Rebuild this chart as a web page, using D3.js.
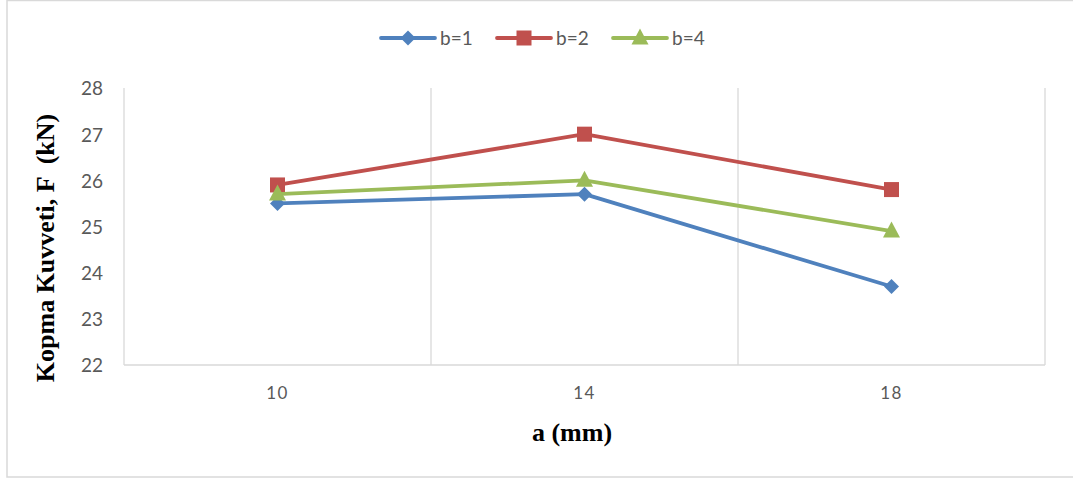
<!DOCTYPE html>
<html>
<head>
<meta charset="utf-8">
<script src="https://cdn.jsdelivr.net/npm/d3@7"></script>
<style>
html,body{margin:0;padding:0;background:#fff;}
svg{display:block;}
</style>
</head>
<body>
<svg id="chart" width="1073" height="481"></svg>
<script>
const categories = ["10", "14", "18"];
const seriesNames = ["b=1", "b=2", "b=4"];
const b1 = [25.5, 25.7, 23.7];
const b2 = [25.9, 27.0, 25.8];
const b4 = [25.7, 26.0, 24.9];
const yTicks = [22, 23, 24, 25, 26, 27, 28];

const series = [
  {name: seriesNames[0], values: b1, color: "#4F81BD", marker: "diamond"},
  {name: seriesNames[1], values: b2, color: "#C0504D", marker: "square"},
  {name: seriesNames[2], values: b4, color: "#9BBB59", marker: "triangle"}
];

const svg = d3.select("#chart");
const W = 1073, H = 481;
const plot = {left: 124, right: 1045, top: 88, bottom: 365};

// outer border
svg.append("rect").attr("x", 7).attr("y", 0.5).attr("width", W + 10).attr("height", 476.5)
  .attr("fill", "none").attr("stroke", "#d9d9d9").attr("stroke-width", 1.5);

const x = d3.scaleBand().domain(categories).range([plot.left, plot.right]).padding(0);
const y = d3.scaleLinear().domain([22, 28]).range([plot.bottom, plot.top]);

// vertical gridlines at band boundaries
const bounds = categories.map(c => x(c)).concat([x(categories[categories.length-1]) + x.bandwidth()]);
svg.append("g").selectAll("line").data(bounds.slice(1)).join("line")
  .attr("x1", d => d).attr("x2", d => d)
  .attr("y1", plot.top).attr("y2", plot.bottom)
  .attr("stroke", "#d9d9d9").attr("stroke-width", 1.3);

// left axis line & bottom axis line
svg.append("line").attr("x1", plot.left).attr("x2", plot.left).attr("y1", plot.top).attr("y2", plot.bottom)
  .attr("stroke", "#d9d9d9").attr("stroke-width", 1.3);
svg.append("line").attr("x1", plot.left).attr("x2", plot.right).attr("y1", plot.bottom).attr("y2", plot.bottom)
  .attr("stroke", "#d9d9d9").attr("stroke-width", 1.3);

// y axis labels
const yAxis = d3.axisLeft(y).tickValues(yTicks).tickFormat(d3.format("d")).tickSize(0).tickPadding(0);
const gy = svg.append("g").attr("transform", `translate(${plot.left - 21},0)`).call(yAxis);
gy.select(".domain").remove();
gy.selectAll("text").attr("font-family", "Lato, 'Open Sans', sans-serif").attr("font-size", 19)
  .attr("fill", "#595959").attr("dy", "0.36em");

// x axis labels
const xAxis = d3.axisBottom(x).tickSize(0).tickPadding(0);
const gx = svg.append("g").attr("transform", `translate(0,${plot.bottom + 22})`).call(xAxis);
gx.select(".domain").remove();
gx.selectAll("text").attr("font-family", "Lato, 'Open Sans', sans-serif").attr("font-size", 17)
  .attr("fill", "#595959").attr("letter-spacing", "1.5px").attr("dy", "0.71em");

// axis titles
svg.append("text").attr("x", 572).attr("y", 441).attr("text-anchor", "middle")
  .attr("font-family", "'Liberation Serif', 'Times New Roman', serif").attr("font-weight", "bold")
  .attr("font-size", 26).attr("fill", "#000").text("a (mm)");
svg.append("text").attr("transform", "translate(54,248) rotate(-90)").attr("text-anchor", "middle")
  .attr("font-family", "'Liberation Serif', 'Times New Roman', serif").attr("font-weight", "bold")
  .attr("font-size", 26).attr("fill", "#000").attr("xml:space", "preserve")
  .text("Kopma Kuvveti, F  (kN)");

function drawMarker(g, type, cx, cy, color) {
  if (type === "diamond") {
    const r = 7.5;
    g.append("path").attr("d", `M${cx},${cy-r}L${cx+r},${cy}L${cx},${cy+r}L${cx-r},${cy}Z`).attr("fill", color);
  } else if (type === "square") {
    const s = 15;
    g.append("rect").attr("x", cx - s/2).attr("y", cy - s/2).attr("width", s).attr("height", s).attr("fill", color);
  } else {
    const h = 16, w = 17;
    g.append("path").attr("d", `M${cx},${cy-h*0.6}L${cx+w/2},${cy+h*0.4}L${cx-w/2},${cy+h*0.4}Z`).attr("fill", color);
  }
}

const line = d3.line().x((d, i) => x(categories[i]) + x.bandwidth()/2).y(d => y(d));

series.forEach(s => {
  const g = svg.append("g");
  g.append("path").datum(s.values).attr("d", line).attr("fill", "none")
    .attr("stroke", s.color).attr("stroke-width", 3.8).attr("stroke-linejoin", "round").attr("stroke-linecap", "round");
  s.values.forEach((v, i) => drawMarker(g, s.marker, x(categories[i]) + x.bandwidth()/2, y(v), s.color));
});

// legend
const legendX = [381, 497, 613];
const ly = 38;
series.forEach((s, i) => {
  const g = svg.append("g");
  const x0 = legendX[i];
  g.append("line").attr("x1", x0).attr("x2", x0 + 54).attr("y1", ly).attr("y2", ly)
    .attr("stroke", s.color).attr("stroke-width", 3.8).attr("stroke-linecap", "round");
  drawMarker(g, s.marker, x0 + 27, ly, s.color);
  g.append("text").attr("x", x0 + 59).attr("y", ly).attr("dy", "0.36em")
    .attr("font-family", "Lato, 'Open Sans', sans-serif").attr("font-size", 19).attr("fill", "#595959")
    .text(s.name);
});
</script>
</body>
</html>
